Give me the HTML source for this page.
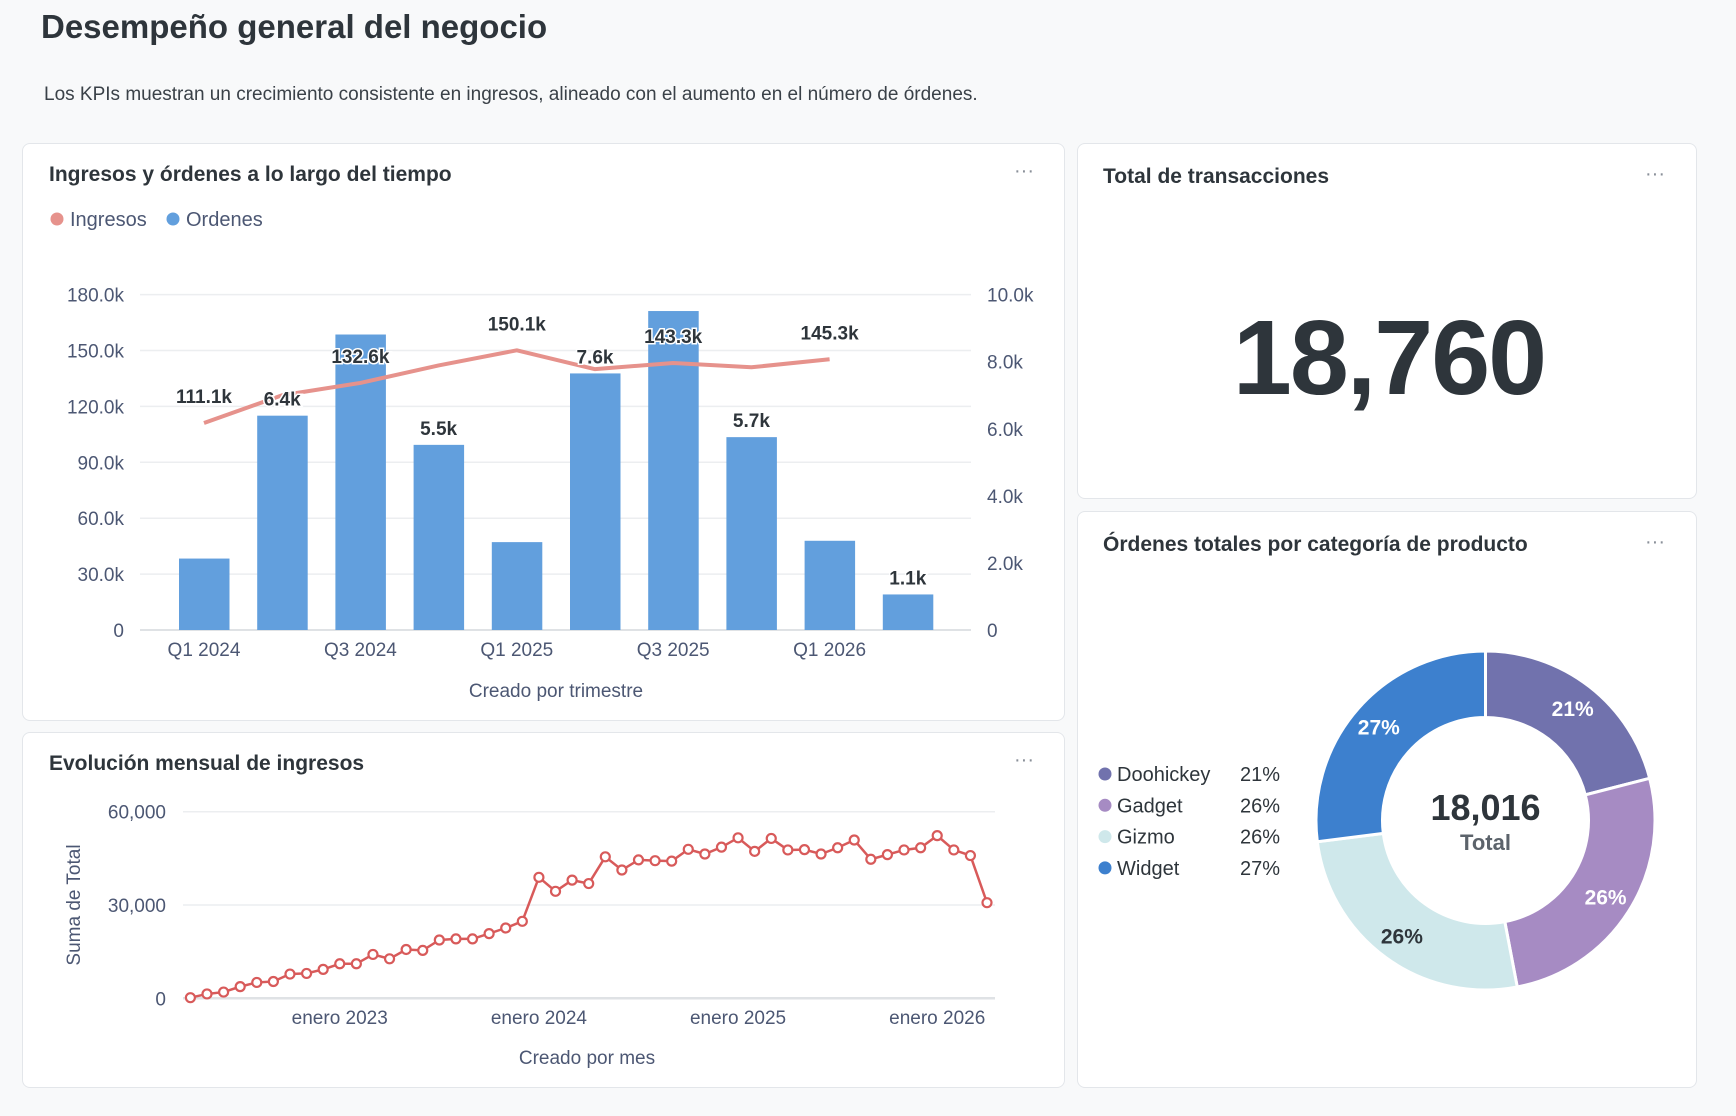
<!DOCTYPE html>
<html><head><meta charset="utf-8"><style>
body{margin:0;width:1736px;height:1116px;background:#f8f9fa;font-family:"Liberation Sans",sans-serif;position:relative;overflow:hidden;color:#2e353b}
.card{position:absolute;background:#fff;border:1px solid #e3e6ea;border-radius:8px;box-sizing:border-box}
.t{position:absolute;white-space:nowrap}
svg{position:absolute;left:0;top:0}
</style></head><body>
<div class="t" style="left:41px;top:8px;font-size:33px;font-weight:bold;color:#2e353b">Desempeño general del negocio</div>
<div class="t" style="left:44px;top:84px;font-size:19px;color:#3a4148">Los KPIs muestran un crecimiento consistente en ingresos, alineado con el aumento en el número de órdenes.</div>

<div class="card" style="left:22px;top:143px;width:1043px;height:578px"></div>
<div class="card" style="left:1077px;top:143px;width:620px;height:356px"></div>
<div class="card" style="left:1077px;top:511px;width:620px;height:577px"></div>
<div class="card" style="left:22px;top:732px;width:1043px;height:356px"></div>

<div class="t" style="left:49px;top:163px;font-size:21px;font-weight:bold">Ingresos y órdenes a lo largo del tiempo</div>
<div class="t" style="left:1103px;top:165px;font-size:21px;font-weight:bold">Total de transacciones</div>
<div class="t" style="left:1103px;top:533px;font-size:21px;font-weight:bold">Órdenes totales por categoría de producto</div>
<div class="t" style="left:49px;top:752px;font-size:21px;font-weight:bold">Evolución mensual de ingresos</div>
<div class="t" style="left:1014px;top:160px;font-size:20px;color:#8a9099">···</div>
<div class="t" style="left:1645px;top:163px;font-size:20px;color:#8a9099">···</div>
<div class="t" style="left:1645px;top:531px;font-size:20px;color:#8a9099">···</div>
<div class="t" style="left:1014px;top:749px;font-size:20px;color:#8a9099">···</div>
<div class="t" style="left:1389px;top:298px;transform:translateX(-50%);font-size:106px;font-weight:bold;color:#2e353b;letter-spacing:-2px">18,760</div>

<svg id="s" width="1736" height="1116" font-family="Liberation Sans, sans-serif"></svg>
<script>
// Chart 1 data
const quarters=["Q1 2024","Q2 2024","Q3 2024","Q4 2024","Q1 2025","Q2 2025","Q3 2025","Q4 2025","Q1 2026","Q2 2026"];
const orders=[2130,6390,8810,5520,2620,7650,9510,5750,2660,1060];
const orderLabels=["","6.4k","","5.5k","","7.6k","","5.7k","","1.1k"];
const revenue=[111.1,126,132.6,142,150.1,140,143.3,141,145.3];
const revenueLabels=["111.1k","","132.6k","","150.1k","","143.3k","","145.3k"];
const leftTicks=[0,30,60,90,120,150,180];
const rightTicks=[0,2,4,6,8,10];
// Chart 2 data (k)
const months=49;
const monthly=[0.2,1.4,2.0,3.75,5.1,5.4,7.8,8.0,9.3,11.1,11.1,14.1,12.7,15.7,15.4,18.75,19.1,19.1,20.8,22.6,24.75,38.9,34.4,38.0,36.9,45.5,41.25,44.5,44.25,44.1,47.9,46.4,48.6,51.6,47.25,51.4,47.7,47.8,46.4,48.4,50.9,44.7,46.2,47.7,48.4,52.3,47.7,45.9,30.75];
const monthTicks=[[9,"enero 2023"],[21,"enero 2024"],[33,"enero 2025"],[45,"enero 2026"]];
const y2Ticks=[0,30000,60000];
// Pie data
const cats=["Doohickey","Gadget","Gizmo","Widget"];
const pct=[21,26,26,27];
const catColors=["#7172ad","#a68bc3","#cfe8eb","#3d80ce"];

const s=document.getElementById('s');
const NS="http://www.w3.org/2000/svg";
function mk(tag,at,txt){const e=document.createElementNS(NS,tag);for(const k in at)e.setAttribute(k,at[k]);if(txt!==undefined)e.textContent=txt;s.appendChild(e);return e;}

const x1=i=>204+i*78.2, yL=v=>630-v/180*335.4, yR=v=>630-v/10*335.4;
leftTicks.forEach(v=>{
 const g=mk('line',{x1:140,x2:971,y1:yL(v),y2:yL(v),stroke:v?'#eceef0':'#dfe2e5','stroke-width':v?1.5:2});
 
 const t=mk('text',{x:124,y:yL(v)+7,'text-anchor':'end','font-size':19,fill:'#4c5773'},v?v.toFixed(1)+'k':'0');
 
});
rightTicks.forEach(v=>{
 const t=mk('text',{x:987,y:yR(v)+7,'font-size':19,fill:'#4c5773'},v?v.toFixed(1)+'k':'0');
 
});
orders.forEach((v,i)=>{
 const b=mk('rect',{x:x1(i)-25,y:yR(v/1000),width:50.5,height:630-yR(v/1000),fill:'#629fdd'});
 
});
mk('polyline',{points:revenue.map((v,i)=>x1(i)+','+yL(v)).join(' '),fill:'none',stroke:'#e6928c','stroke-width':4,'stroke-linejoin':'round'});
function lab(x,y,txt){const t=mk('text',{x:x,y:y,'text-anchor':'middle','font-size':19,'font-weight':'bold',fill:'#2e353b',stroke:'#fff','stroke-width':3,'paint-order':'stroke'},txt);}
orders.forEach((v,i)=>{if(orderLabels[i])lab(x1(i),yR(v/1000)-10,orderLabels[i]);});
revenue.forEach((v,i)=>{if(revenueLabels[i])lab(x1(i),yL(v)-20,revenueLabels[i]);});
quarters.forEach((q,i)=>{if(i%2===0){const t=mk('text',{x:x1(i),y:656,'text-anchor':'middle','font-size':19,fill:'#4c5773'},q);}});
let t=mk('text',{x:556,y:697,'text-anchor':'middle','font-size':19,fill:'#4c5773'},'Creado por trimestre');
mk('circle',{cx:57,cy:219,r:6.5,fill:'#e6928c'});
t=mk('text',{x:70,y:226,'font-size':20,fill:'#4c5773'},'Ingresos');
mk('circle',{cx:173,cy:219,r:6.5,fill:'#629fdd'});
t=mk('text',{x:186,y:226,'font-size':20,fill:'#4c5773'},'Ordenes');

const x2=i=>190.4+i*(987-190.4)/48, y2=v=>998.3-v/60000*186.6;
y2Ticks.forEach(v=>{
 const g=mk('line',{x1:183,x2:995,y1:y2(v),y2:y2(v),stroke:v?'#eceef0':'#dfe2e5','stroke-width':v?1.5:2.5});
 
 const tt=mk('text',{x:166,y:y2(v)+7,'text-anchor':'end','font-size':19,fill:'#4c5773'},v.toLocaleString('en-US'));
 
});
mk('polyline',{points:monthly.map((v,i)=>x2(i)+','+y2(v*1000)).join(' '),fill:'none',stroke:'#d85a5a','stroke-width':2.5});
monthly.forEach((v,i)=>{const c=mk('circle',{cx:x2(i),cy:y2(v*1000),r:4.5,fill:'#fff',stroke:'#d85a5a','stroke-width':2.2});});
monthTicks.forEach(([i,l])=>{const tt=mk('text',{x:x2(i),y:1024,'text-anchor':'middle','font-size':19,fill:'#4c5773'},l);});
t=mk('text',{x:587,y:1064,'text-anchor':'middle','font-size':19,fill:'#4c5773'},'Creado por mes');
t=mk('text',{x:0,y:0,'text-anchor':'middle','font-size':19,fill:'#4c5773',transform:'translate(80,905) rotate(-90)'},'Suma de Total');

const cx=1485.5,cy=820.5,R=169.5,r0=103;
let a=-Math.PI/2;const tot=pct.reduce((p,q)=>p+q,0);
pct.forEach((p,i)=>{
 const a2=a+p/tot*2*Math.PI;const lg=(a2-a)>Math.PI?1:0;
 const P=(rr,an)=>[cx+rr*Math.cos(an),cy+rr*Math.sin(an)];
 const [ax,ay]=P(R,a),[bx,by]=P(R,a2),[cx2,cy2]=P(r0,a2),[dx,dy]=P(r0,a);
 const e=mk('path',{d:`M${ax},${ay}A${R},${R} 0 ${lg} 1 ${bx},${by}L${cx2},${cy2}A${r0},${r0} 0 ${lg} 0 ${dx},${dy}Z`,fill:catColors[i],stroke:'#fff','stroke-width':3});
 
 const m=(a+a2)/2;const [lx,ly]=P((R+r0)/2+6,m);
 const tt=mk('text',{x:lx,y:ly+8,'text-anchor':'middle','font-size':21,'font-weight':'bold',fill:i===2?'#2e353b':'#fff'},p+'%');
 
 const ly2=774+i*31.3;
 mk('circle',{cx:1105,cy:ly2,r:6.5,fill:catColors[i]});
 const le=mk('text',{x:1117,y:ly2+7,'font-size':20,fill:'#2e353b'},cats[i]);
 const lp=mk('text',{x:1240,y:ly2+7,'font-size':20,fill:'#2e353b'},p+'%');
 a=a2;
});
t=mk('text',{x:cx,y:820,'text-anchor':'middle','font-size':36,'font-weight':'bold',fill:'#2e353b'},'18,016');
t=mk('text',{x:cx,y:850,'text-anchor':'middle','font-size':22,'font-weight':'bold',fill:'#5c636b'},'Total');
</script>
</body></html>
